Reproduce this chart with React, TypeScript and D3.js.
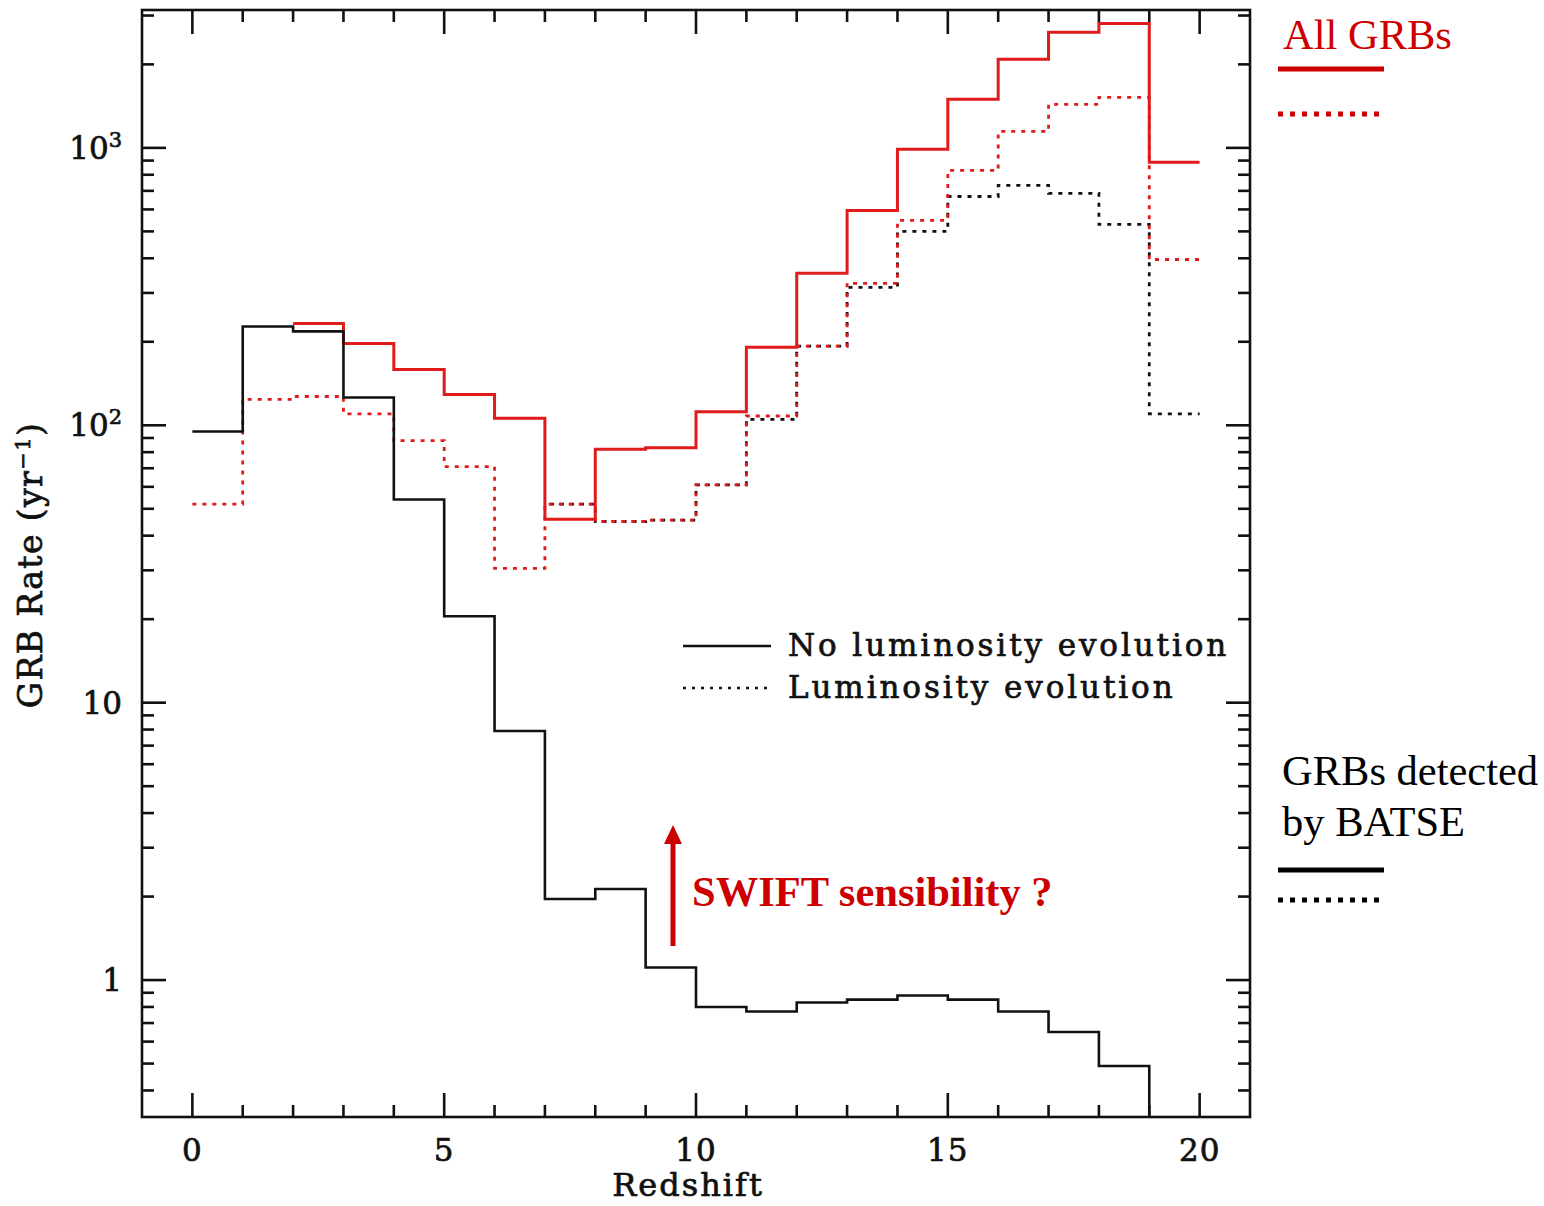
import React, { useEffect, useRef } from 'react';
import * as d3 from 'd3';

// redshift bins: value of each bin [z, z+1)
const binStarts = d3.range(0, 20);
const batseNoEvo = [95, 227, 218, 126, 54, 20.5, 7.9, 1.96, 2.13, 1.11, 0.8, 0.77, 0.83, 0.85, 0.88, 0.85, 0.77, 0.65, 0.49, 0.1];
const batseEvo = [null, null, null, null, null, null, null, 52, 45, 45.5, 61, 105, 193, 314, 500, 668, 733, 686, 530, 110];
const allNoEvo = [null, null, 233, 197, 159, 129, 106, 45.8, 82, 83, 112, 191, 353, 595, 988, 1497, 2085, 2610, 2810, 887];
const allEvo = [52, 124, 127, 110, 88, 71, 30.5, 52, 45, 45.5, 61, 108, 193, 325, 548, 830, 1146, 1435, 1521, 396];

const xMajor = [0, 5, 10, 15, 20];
const yMajor = [1, 10, 100, 1000];
const yLabels = ['1', '10', '10²', '10³'];

const W = 1544;
const H = 1206;
const RED = '#e01b1b';
const TXT_RED = '#cc0000';
const PLOT_FONT = '"DejaVu Serif", serif';
const NOTE_FONT = '"Liberation Serif", "Times New Roman", serif';

const App: React.FC = () => {
  const svgRef = useRef<SVGSVGElement | null>(null);

  useEffect(() => {
    const svg = d3.select(svgRef.current);
    svg.selectAll('*').remove();

    const left = 142, right = 1250, top = 10, bottom = 1117;
    const x = d3.scaleLinear().domain([-1, 21]).range([left, right]);
    const y = d3.scaleLog().domain([0.3209, 3141]).range([bottom, top]);

    svg.append('defs').append('clipPath').attr('id', 'plotclip')
      .append('rect').attr('x', left).attr('y', top)
      .attr('width', right - left).attr('height', bottom - top);

    const stepLine = d3.line<[number, number]>()
      .x((d) => x(d[0]))
      .y((d) => y(d[1]))
      .curve(d3.curveStepAfter);

    const toPoints = (vals: (number | null)[]) => {
      const pts: [number, number][] = [];
      binStarts.forEach((z, i) => {
        if (vals[i] != null) pts.push([z, vals[i] as number]);
      });
      pts.push([20, vals[vals.length - 1] as number]);
      return pts;
    };

    const plot = svg.append('g').attr('clip-path', 'url(#plotclip)');

    const series = [
      { vals: batseEvo, color: '#111', width: 2.8, dash: '4,6', offset: 5 },
      { vals: allEvo, color: RED, width: 2.8, dash: '4,6', offset: 0 },
      { vals: allNoEvo, color: RED, width: 3, dash: null, offset: 0 },
      { vals: batseNoEvo, color: '#111', width: 2.6, dash: null, offset: 0 },
    ];
    series.forEach((s) => {
      plot.append('path')
        .attr('d', stepLine(toPoints(s.vals)) || '')
        .attr('fill', 'none')
        .attr('stroke', s.color)
        .attr('stroke-width', s.width)
        .attr('stroke-dasharray', s.dash)
        .attr('stroke-dashoffset', s.offset);
    });

    // frame
    const axisG = svg.append('g').attr('stroke', '#111').attr('stroke-width', 2.6);
    axisG.append('rect').attr('x', left).attr('y', top)
      .attr('width', right - left).attr('height', bottom - top).attr('fill', 'none');

    // x ticks
    d3.range(0, 21).forEach((z) => {
      const len = xMajor.includes(z) ? 24 : 12;
      axisG.append('line').attr('x1', x(z)).attr('x2', x(z)).attr('y1', bottom).attr('y2', bottom - len);
      axisG.append('line').attr('x1', x(z)).attr('x2', x(z)).attr('y1', top).attr('y2', top + len);
    });
    // y ticks
    y.ticks().forEach((v) => {
      const major = yMajor.some((m) => Math.abs(m - v) < 1e-9);
      const len = major ? 24 : 12;
      axisG.append('line').attr('x1', left).attr('x2', left + len).attr('y1', y(v)).attr('y2', y(v));
      axisG.append('line').attr('x1', right).attr('x2', right - len).attr('y1', y(v)).attr('y2', y(v));
    });

    // tick labels
    const lab = svg.append('g').attr('font-family', PLOT_FONT).attr('font-size', 31)
      .attr('fill', '#111').attr('stroke', '#111').attr('stroke-width', 0.7);
    xMajor.forEach((z) => {
      lab.append('text').attr('x', x(z)).attr('y', bottom + 44)
        .attr('text-anchor', 'middle').attr('letter-spacing', 1).text(String(z));
    });
    yMajor.forEach((v, i) => {
      const t = lab.append('text').attr('x', 122).attr('y', y(v) + 11).attr('text-anchor', 'end');
      const s = yLabels[i];
      if (s.length > 2) {
        t.append('tspan').text('10');
        t.append('tspan').attr('font-size', 21).attr('dy', -12).text(s === '10²' ? '2' : '3');
      } else {
        t.text(s);
      }
    });

    lab.append('text').attr('x', (left + right) / 2 - 8).attr('y', 1196)
      .attr('text-anchor', 'middle').attr('font-size', 32).attr('letter-spacing', 2).text('Redshift');
    const yl = lab.append('text')
      .attr('transform', `translate(42, 565) rotate(-90)`)
      .attr('text-anchor', 'middle').attr('font-size', 33).attr('letter-spacing', 1.4);
    yl.append('tspan').text('GRB Rate (yr');
    yl.append('tspan').attr('font-size', 21).attr('dy', -12).text('−1');
    yl.append('tspan').attr('dy', 12).text(')');

    // inner legend
    const leg = svg.append('g').attr('font-family', PLOT_FONT).attr('font-size', 31)
      .attr('fill', '#111').attr('stroke', '#111').attr('stroke-width', 0.7);
    leg.append('line').attr('x1', 683).attr('x2', 771).attr('y1', 646).attr('y2', 646)
      .attr('stroke', '#111').attr('stroke-width', 2.4);
    leg.append('line').attr('x1', 683).attr('x2', 768).attr('y1', 688).attr('y2', 688)
      .attr('stroke', '#111').attr('stroke-width', 2.4).attr('stroke-dasharray', '3,6');
    leg.append('text').attr('x', 788).attr('y', 656).attr('letter-spacing', 2.9).text('No luminosity evolution');
    leg.append('text').attr('x', 788).attr('y', 698).attr('letter-spacing', 2.9).text('Luminosity evolution');

    // SWIFT annotation
    svg.append('line').attr('x1', 673).attr('x2', 673).attr('y1', 946).attr('y2', 842)
      .attr('stroke', TXT_RED).attr('stroke-width', 5);
    svg.append('path').attr('d', 'M664,844 L682,844 L673,825 Z').attr('fill', TXT_RED);
    svg.append('text').attr('x', 692).attr('y', 906).attr('font-family', NOTE_FONT)
      .attr('font-weight', 'bold').attr('font-size', 42.5).attr('fill', TXT_RED).text('SWIFT sensibility ?');

    // outer keys
    const note = svg.append('g').attr('font-family', NOTE_FONT).attr('font-size', 42.5);
    note.append('text').attr('x', 1283).attr('y', 49).attr('fill', TXT_RED).text('All GRBs');
    note.append('line').attr('x1', 1278).attr('x2', 1384).attr('y1', 69).attr('y2', 69)
      .attr('stroke', TXT_RED).attr('stroke-width', 5);
    note.append('line').attr('x1', 1278).attr('x2', 1382).attr('y1', 114).attr('y2', 114)
      .attr('stroke', TXT_RED).attr('stroke-width', 5).attr('stroke-dasharray', '5,7');
    note.append('text').attr('x', 1282).attr('y', 785).attr('fill', '#000').text('GRBs detected');
    note.append('text').attr('x', 1282).attr('y', 836).attr('fill', '#000').text('by BATSE');
    note.append('line').attr('x1', 1278).attr('x2', 1384).attr('y1', 870).attr('y2', 870)
      .attr('stroke', '#000').attr('stroke-width', 5);
    note.append('line').attr('x1', 1278).attr('x2', 1382).attr('y1', 900).attr('y2', 900)
      .attr('stroke', '#000').attr('stroke-width', 5).attr('stroke-dasharray', '5,7');
  }, []);

  return (
    <svg
      ref={svgRef}
      width={W}
      height={H}
      viewBox={`0 0 ${W} ${H}`}
      style={{ position: 'absolute', left: 0, top: 0, background: '#fff' }}
    />
  );
};

export default App;
